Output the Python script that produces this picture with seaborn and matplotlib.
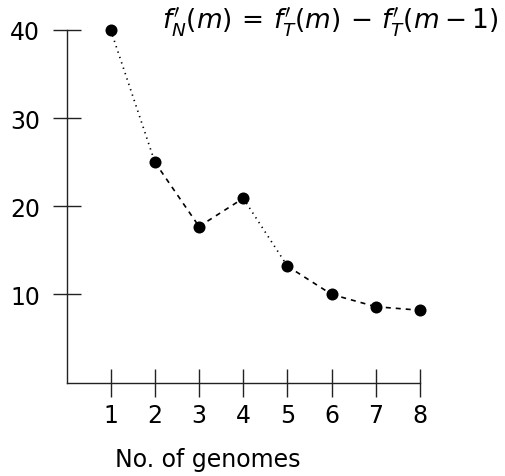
import matplotlib
matplotlib.use("Agg")
import matplotlib.pyplot as plt
import seaborn as sns
import pandas as pd

genomes = [1, 2, 3, 4, 5, 6, 7, 8]
new_genes = [40.0, 25.0, 17.7, 20.9, 13.2, 10.0, 8.6, 8.2]
segment_styles = ["dotted", "dashed", "dashed", "dotted", "dashed", "dashed", "dashed"]
x_ticks = [1, 2, 3, 4, 5, 6, 7, 8]
y_ticks = [10, 20, 30, 40]
x_label = "No. of genomes"
formula = r"$f^{\prime}_N(m)\,=\,f^{\prime}_T(m)\,-\,f^{\prime}_T(m-1)$"

sns.set_theme(style="white")
plt.rcParams["font.family"] = ["DejaVu Sans"]
plt.rcParams["mathtext.fontset"] = "dejavusans"

rows = []
for i, st in enumerate(segment_styles):
    rows.append({"x": genomes[i], "y": new_genes[i], "seg": i, "style": st})
    rows.append({"x": genomes[i + 1], "y": new_genes[i + 1], "seg": i, "style": st})
seg_df = pd.DataFrame(rows)
pts = pd.DataFrame({"x": genomes, "y": new_genes})

fig = plt.figure(figsize=(5.05, 4.77), dpi=100)
ax = fig.add_axes([66.5 / 505, 1 - 383.5 / 477, (420 - 66.5) / 505, (383.5 - 31) / 477])

sns.lineplot(data=seg_df, x="x", y="y", units="seg", estimator=None, style="style",
             dashes={"dotted": (0.8, 2.6), "dashed": (3.0, 3.0)}, color="black",
             linewidth=1.2, legend=False, ax=ax, clip_on=False)
sns.scatterplot(data=pts, x="x", y="y", color="black", s=75, edgecolor="black",
                linewidth=0, ax=ax, clip_on=False, zorder=5)

ax.set_xlim(0, 8)
ax.set_ylim(0, 40)
ax.set_xticks(x_ticks)
ax.set_yticks(y_ticks)
ax.set_xticklabels([str(v) for v in x_ticks])
ax.set_yticklabels([str(v) for v in y_ticks])
for s in ["top", "right"]:
    ax.spines[s].set_visible(False)
for s in ["left", "bottom"]:
    ax.spines[s].set_color("#222222")
    ax.spines[s].set_linewidth(1.0)
ax.tick_params(axis="both", which="major", bottom=True, left=True, direction="inout",
               length=20, width=1.0, color="#222222", labelsize=17, labelcolor="black")
ax.tick_params(axis="y", pad=9)
ax.tick_params(axis="x", pad=5)
ax.set_ylabel("")
ax.set_xlabel(x_label, fontsize=17, color="black", va="center")
ax.xaxis.set_label_coords(0.40, -0.217)
ax.grid(False)

fig.text(330 / 505, 1 - 22 / 477, formula, fontsize=19, ha="center", va="center", color="black")

fig.savefig("out.png", dpi=100, facecolor="white")
